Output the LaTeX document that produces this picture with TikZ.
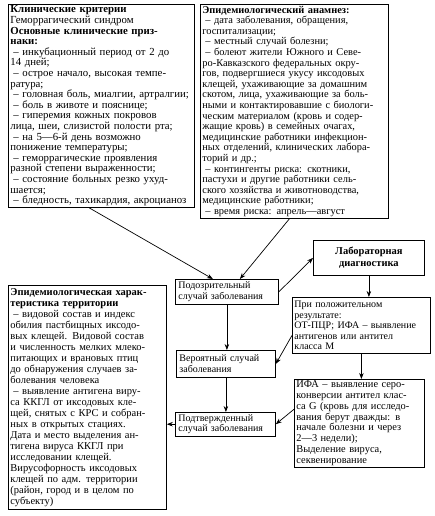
\documentclass[tikz,border=0pt]{standalone}
\usepackage{fontspec}
\setmainfont{Liberation Serif}
\usetikzlibrary{positioning,arrows.meta,calc}
\tikzset{
  txtbox/.style={rectangle,draw=black,line width=0.8pt,fill=white,
    align=left,anchor=north west,inner xsep=2pt,inner ysep=1.5pt,
    font=\fontsize{10}{10.6}\selectfont},
  fsize/.style 2 args={font=\fontsize{#1}{#2}\selectfont},
  casebox/.style={txtbox,inner xsep=3pt,inner ysep=2pt},
  labbox/.style={txtbox,align=center,font=\fontsize{10.5}{11.5}\selectfont\bfseries},
  ar/.style={-{Stealth[length=6pt,width=4.5pt]},line width=0.7pt,draw=black},
}
\newcommand{\dsh}{\hspace*{3pt}– }

\begin{document}
\begin{tikzpicture}[x=1pt,y=1pt]
  \useasboundingbox (0,0) rectangle (434,-516);
  % upper boxes
  \node[txtbox,fsize={10.8}{10.6},text width=182pt,minimum height=203pt] (clin) at (8,-4)
    {\textbf{Клинические критерии}\\
     Геморрагический синдром\\
     \textbf{Основные клинические приз-}\\
     \textbf{наки:}\\
     \dsh инкубационный период от 2 до\\
     14 дней;\\
     \dsh острое начало, высокая темпе-\\
     ратура;\\
     \dsh головная боль, миалгии, артралгии;\\
     \dsh боль в животе и пояснице;\\
     \dsh гиперемия кожных покровов\\
     лица, шеи, слизистой полости рта;\\
     \dsh на 5—6-й день возможно\\
     понижение температуры;\\
     \dsh геморрагические проявления\\
     разной степени выраженности;\\
     \dsh состояние больных резко ухуд-\\
     шается;\\
     \dsh бледность, тахикардия, акроцианоз};
  \node[txtbox,fsize={10.4}{10.6},text width=184pt,minimum height=214pt] (anam) at (200,-4)
    {\textbf{Эпидемиологический анамнез:}\\
     \dsh дата заболевания, обращения,\\
     госпитализации;\\
     \dsh местный случай болезни;\\
     \dsh болеют жители Южного и Севе-\\
     ро-Кавказского федеральных окру-\\
     гов, подвергшиеся укусу иксодовых\\
     клещей, ухаживающие за домашним\\
     скотом, лица, ухаживающие за боль-\\
     ными и контактировавшие с биологи-\\
     ческим материалом (кровь и содер-\\
     жащие кровь) в семейных очагах,\\
     медицинские работники инфекцион-\\
     ных отделений, клинических лабора-\\
     торий и др.;\\
     \dsh контингенты риска: скотники,\\
     пастухи и другие работники сель-\\
     ского хозяйства и животноводства,\\
     медицинские работники;\\
     \dsh время риска: апрель—август};
  % case chain
  \node[labbox,text width=107pt,minimum height=35pt] (lab) at (313,-240)
    {Лабораторная\\диагностика};
  \node[casebox,text width=97pt,minimum height=25pt] (susp) at (175,-279)
    {Подозрительный\\случай заболевания};
  \node[txtbox,text width=134pt,minimum height=56pt] (pos) at (292,-297)
    {При положительном\\
     результате:\\
     ОТ-ПЦР; ИФА – выявление\\
     антигенов или антител\\
     класса М};
  \node[casebox,text width=93pt,minimum height=27pt] (prob) at (176,-350)
    {Вероятный случай\\заболевания};
  \node[txtbox,fsize={10.4}{10.8},text width=126pt,minimum height=87pt] (ifa) at (294,-379)
    {ИФА – выявление серо-\\
     конверсии антител клас-\\
     са G (кровь для исследо-\\
     вания берут дважды: в\\
     начале болезни и через\\
     2—3 недели);\\
     Выделение вируса,\\
     секвенирование};
  \node[casebox,text width=94pt,minimum height=22pt] (conf) at (175,-412)
    {Подтвержденный\\случай заболевания};
  \node[txtbox,fsize={10.5}{11},text width=154pt,minimum height=224pt] (terr) at (8,-285)
    {\textbf{Эпидемиологическая харак-}\\
     \textbf{теристика территории}\\
     \dsh видовой состав и индекс\\
     обилия пастбищных иксодо-\\
     вых клещей. Видовой состав\\
     и численность мелких млеко-\\
     питающих и врановых птиц\\
     до обнаружения случаев за-\\
     болевания человека\\
     \dsh выявление антигена виру-\\
     са ККГЛ от иксодовых кле-\\
     щей, снятых с КРС и собран-\\
     ных в открытых стациях.\\
     Дата и место выделения ан-\\
     тигена вируса ККГЛ при\\
     исследовании клещей.\\
     Вирусофорность иксодовых\\
     клещей по адм. территории\\
     (район, город и в целом по\\
     субъекту)};
  % connectors
  \draw[ar] ([xshift=-12pt]clin.south) -- ([xshift=-14pt]susp.north);
  \draw[ar] ([xshift=-5pt]anam.south) -- ([xshift=13pt]susp.north);
  \draw[ar] (susp.east) -- (lab.west);
  \draw[ar] (lab.south) -- (lab.south |- pos.north);
  \draw[ar] (susp.south) -- (susp.south |- prob.north);
  \draw[ar] ([yshift=-10pt]pos.west) -- (prob.east);
  \draw[ar] (pos.south) -- (pos.south |- ifa.north);
  \draw[ar] (prob.south) -- (prob.south |- conf.north);
  \draw[ar] ([yshift=14pt]ifa.west) -- (conf.east);
  \draw[ar] (conf.west) -- (conf.west -| terr.east);
\end{tikzpicture}
\end{document}
